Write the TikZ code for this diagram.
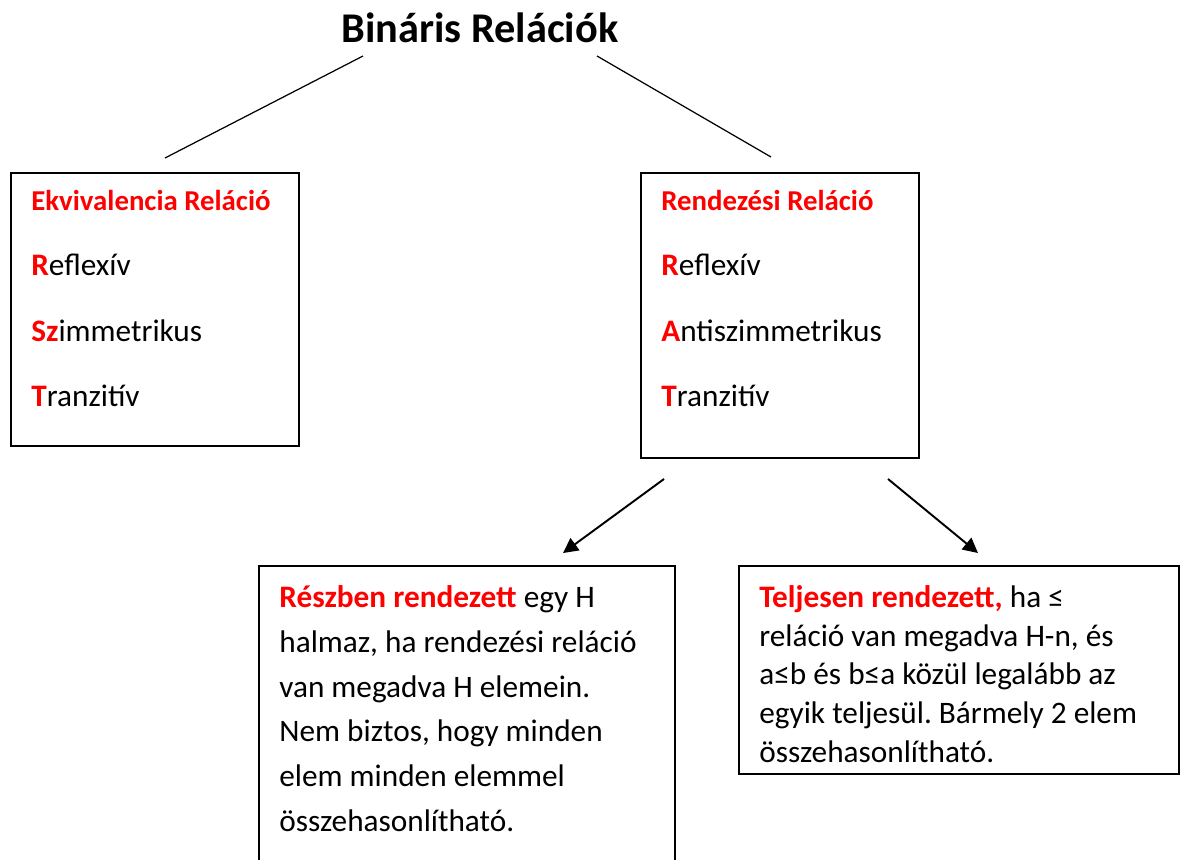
\documentclass[tikz,border=0pt]{standalone}
\usepackage{fontspec}
\setmainfont{Carlito}
\usepackage{xcolor}
\usetikzlibrary{arrows.meta, positioning}
\definecolor{relred}{RGB}{255,0,0}
\frenchspacing

\newcommand{\rl}[1]{\textcolor{relred}{\textbf{#1}}}

\begin{document}
\begin{tikzpicture}[x=0.02cm, y=-0.02cm,
    box/.style={rectangle, draw, line width=0.95pt, anchor=north west, inner sep=0pt},
    title/.style={anchor=base, inner sep=0pt, font=\fontsize{24.1}{28}\selectfont\bfseries},
    head/.style={anchor=base west, inner sep=0pt, text=relred, font=\fontsize{16.4}{19}\selectfont\bfseries},
    item/.style={anchor=base west, inner sep=0pt, font=\fontsize{17.8}{21}\selectfont},
    para/.style={anchor=base west, inner sep=0pt, align=left},
    link/.style={line width=0.7pt},
    arrow/.style={-{Triangle[length=8.5pt, width=8.5pt]}, line width=1.1pt}
]
\useasboundingbox (0,0) rectangle (1182,859);

\node[title] (title) at (480,42) {Bináris Relációk};

% upper boxes
\node[box, minimum width=5.76cm, minimum height=5.46cm] (ekv) at (10,172) {};
\node[box, minimum width=5.56cm, minimum height=5.70cm] (rnd) at (640,172) {};

\node[head] (ekvhead) at (31,210) {Ekvivalencia Reláció};
\node[item] (ekvR) at (31,275) {\rl{R}eflexív};
\node[item] (ekvS) at (31,341) {\rl{Sz}immetrikus};
\node[item] (ekvT) at (31,406) {\rl{T}ranzitív};

\node[head] (rndhead) at (661,210) {Rendezési Reláció};
\node[item] (rndR) at (661,275) {\rl{R}eflexív};
\node[item] (rndA) at (661,341) {\rl{A}ntiszimmetrikus};
\node[item] (rndT) at (661,406) {\rl{T}ranzitív};

% lower boxes (text placed by the baseline of its last line)
\node[box, minimum width=8.32cm, minimum height=6.4cm] (resz) at (258,565) {};
\node[box, minimum width=8.80cm, minimum height=4.16cm] (telj) at (738,565) {};

\node[para, font=\fontsize{17.8}{25.4}\selectfont] (reszt) at (279,831)
    {\rl{Részben rendezett} egy H\\halmaz, ha rendezési reláció\\van megadva H elemein.\\Nem biztos, hogy minden\\elem minden elemmel\\összehasonlítható.};
\node[para, font=\fontsize{17.8}{22}\selectfont] (teljt) at (759,762)
    {\rl{Teljesen rendezett,} ha ≤\\reláció van megadva H-n, és\\a≤b és b≤a közül legalább az\\egyik teljesül. Bármely 2 elem\\összehasonlítható.};

% connectors
\coordinate (tL) at (363,56);
\coordinate (tR) at (597,56);
\coordinate (eT) at (165,158);
\coordinate (rT) at (771,157);
\coordinate (rBL) at (664,479);
\coordinate (rBR) at (888,479);
\coordinate (rsT) at (563,553);
\coordinate (tjT) at (978,553);

\draw[link] (tL) -- (eT);
\draw[link] (tR) -- (rT);
\draw[arrow] (rBL) -- (rsT);
\draw[arrow] (rBR) -- (tjT);
\end{tikzpicture}
\end{document}
